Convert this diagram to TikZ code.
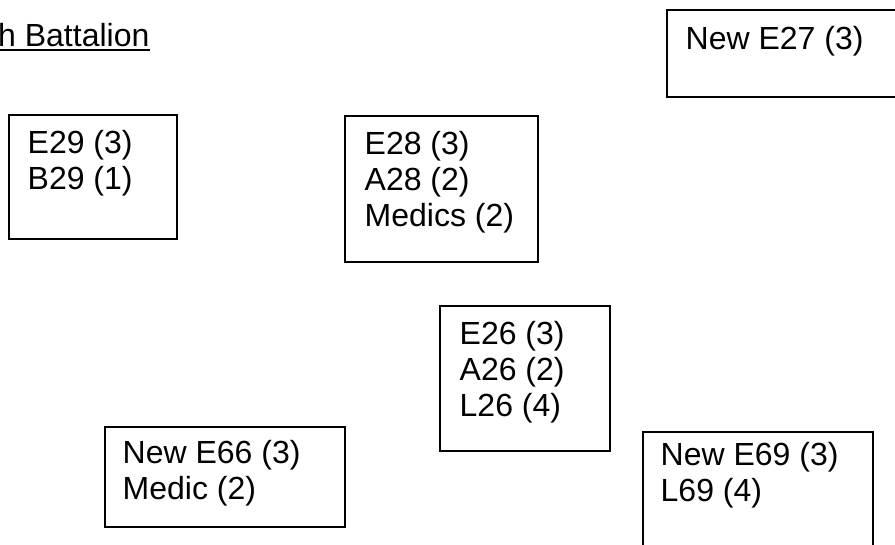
\documentclass[tikz,border=0pt]{standalone}
\usepackage{fontspec}
\setmainfont{Liberation Sans}
\begin{document}
\begin{tikzpicture}[x=1pt,y=1pt,
  box/.style={draw=black, line width=1.6pt, rectangle, inner sep=0pt, anchor=north west},
  txt/.style={anchor=base west, inner sep=0pt, font=\fontsize{32}{36}\selectfont}]
\useasboundingbox (0,0) rectangle (895,544);
\clip (0,0) rectangle (895,544);
% title
\node[txt] (title) at (-2,497) {h Battalion};
\draw[line width=2pt] ([yshift=-3.5pt]title.base west) -- ([yshift=-3.5pt]title.base east);
% boxes
\node[box, minimum width=168pt, minimum height=124pt] (b29) at (8,430) {};
\node[box, minimum width=193pt, minimum height=146pt] (b28) at (344,429) {};
\node[box, minimum width=170pt, minimum height=145pt] (b26) at (439,239) {};
\node[box, minimum width=240pt, minimum height=100pt] (b66) at (104,118) {};
\node[box, minimum width=230pt, minimum height=140pt] (b69) at (642,113) {};
\node[box, minimum width=260pt, minimum height=87pt] (b27) at (666,535) {};
% texts
\node[txt] (t29) at (27.5,390) {\begin{tabular}[t]{@{}l@{}}E29 (3)\\B29 (1)\end{tabular}};
\node[txt] (t28) at (364.5,389) {\begin{tabular}[t]{@{}l@{}}E28 (3)\\A28 (2)\\Medics (2)\end{tabular}};
\node[txt] (t26) at (459.5,199) {\begin{tabular}[t]{@{}l@{}}E26 (3)\\A26 (2)\\L26 (4)\end{tabular}};
\node[txt] (t66) at (122.5,80) {\begin{tabular}[t]{@{}l@{}}New E66 (3)\\Medic (2)\end{tabular}};
\node[txt] (t69) at (660.5,78) {\begin{tabular}[t]{@{}l@{}}New E69 (3)\\L69 (4)\end{tabular}};
\node[txt] (t27) at (685.5,494) {New E27 (3)};
\end{tikzpicture}
\end{document}
